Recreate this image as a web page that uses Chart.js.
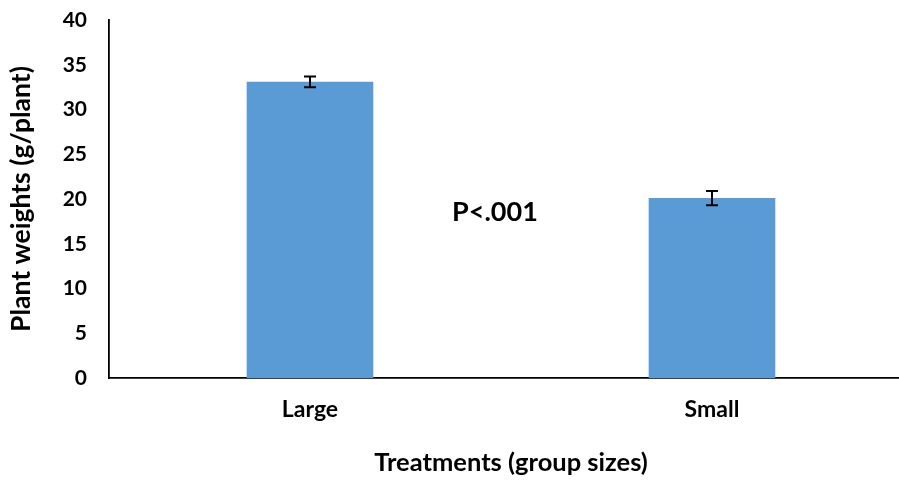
<!DOCTYPE html>
<html>
<head>
<meta charset="utf-8">
<script src="https://cdn.jsdelivr.net/npm/chart.js@4.4.1/dist/chart.umd.min.js"></script>
<style>
  html, body { margin: 0; padding: 0; background: #fff; }
  #wrap { width: 899px; height: 480px; overflow: hidden; position: relative; }
  canvas { display: block; }
</style>
</head>
<body>
<div id="wrap"><canvas id="c" width="913" height="480"></canvas></div>
<script>
// Plant weight by treatment group size
const categories = ['Large', 'Small'];
const meanWeights = [33.1, 20.1];
const errors = [0.6, 0.8];
const yTicks = [0, 5, 10, 15, 20, 25, 30, 35, 40];
const pLabel = 'P<.001';

const FONT = 'Lato, "Open Sans", sans-serif';

// Draws symmetric error bars with caps on top of each bar
const errorBars = {
  id: 'errorBars',
  afterDatasetsDraw(chart) {
    const ctx = chart.ctx;
    const meta = chart.getDatasetMeta(0);
    const y = chart.scales.y;
    ctx.save();
    ctx.strokeStyle = '#000';
    ctx.lineWidth = 2;
    meta.data.forEach((bar, i) => {
      const v = meanWeights[i];
      const top = y.getPixelForValue(v + errors[i]);
      const bot = y.getPixelForValue(v - errors[i]);
      const x = bar.x;
      ctx.beginPath();
      ctx.moveTo(x, top); ctx.lineTo(x, bot);
      ctx.moveTo(x - 6, top); ctx.lineTo(x + 6, top);
      ctx.moveTo(x - 6, bot); ctx.lineTo(x + 6, bot);
      ctx.stroke();
    });
    ctx.restore();
  }
};

// Significance annotation between the two groups
const pText = {
  id: 'pText',
  afterDraw(chart) {
    const ctx = chart.ctx;
    const x = chart.scales.x.getPixelForValue(0.46);
    const y = chart.scales.y.getPixelForValue(18.5);
    ctx.save();
    ctx.font = 'bold 27px ' + FONT;
    ctx.fillStyle = '#000';
    ctx.textAlign = 'center';
    ctx.textBaseline = 'middle';
    ctx.fillText(pLabel, x, y);
    ctx.restore();
  }
};

new Chart(document.getElementById('c'), {
  type: 'bar',
  data: {
    labels: categories,
    datasets: [{
      data: meanWeights,
      backgroundColor: '#5B9BD5',
      borderWidth: 0,
      categoryPercentage: 1,
      barPercentage: 0.315
    }]
  },
  options: {
    responsive: false,
    animation: false,
    events: [],
    layout: { padding: { top: 20, left: 0, right: 0, bottom: 0 } },
    plugins: { legend: { display: false }, tooltip: { enabled: false } },
    scales: {
      x: {
        offset: true,
        grid: { display: false, drawTicks: false },
        border: { color: '#000', width: 1.8 },
        ticks: { color: '#000', padding: 18, font: { family: FONT, size: 23, weight: 'bold' } },
        title: {
          display: true,
          text: 'Treatments (group sizes)',
          color: '#000',
          font: { family: FONT, size: 25.5, weight: 'bold' },
          padding: { top: 20, bottom: 2 }
        },
        afterFit(s) { s.height = 102; s.paddingTop = 0; }
      },
      y: {
        min: 0, max: 40,
        afterBuildTicks(s) { s.ticks = yTicks.map(v => ({ value: v })); },
        grid: { display: false, drawTicks: false },
        border: { color: '#000', width: 1.8 },
        ticks: { color: '#000', padding: 22, font: { family: FONT, size: 21, weight: 'bold' } },
        title: {
          display: true,
          text: 'Plant weights (g/plant)',
          color: '#000',
          font: { family: FONT, size: 26.5, weight: 'bold' },
          padding: { top: 6, bottom: 0 }
        },
        afterFit(s) { s.width = 109; s.paddingTop = 0; s.paddingBottom = 0; }
      }
    }
  },
  plugins: [errorBars, pText]
});
</script>
</body>
</html>
